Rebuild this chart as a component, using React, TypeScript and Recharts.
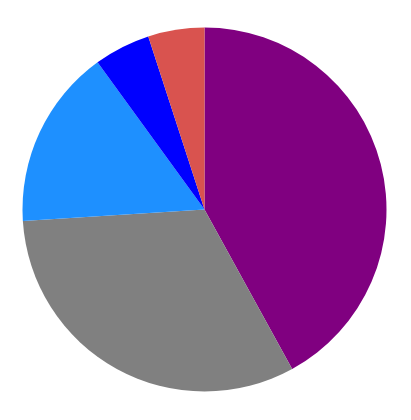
import React from "react";
import { PieChart, Pie, Cell } from "recharts";

const names = ["A", "B", "C", "D", "E"];
const values = [42, 32, 16, 5, 5];
const colors = ["#800080", "#808080", "#1e90ff", "#0000ff", "#d9534f"];

const data = names.map((n, i) => ({ name: n, value: values[i] }));

export default function App() {
  return (
    <PieChart width={393} height={403}>
      <Pie
        data={data}
        dataKey="value"
        nameKey="name"
        cx="50%"
        cy="50%"
        outerRadius={182}
        startAngle={90}
        endAngle={-270}
        stroke="none"
        isAnimationActive={false}
        label={false}
        labelLine={false}
      >
        {data.map((d, i) => (
          <Cell key={d.name} fill={colors[i]} />
        ))}
      </Pie>
    </PieChart>
  );
}
